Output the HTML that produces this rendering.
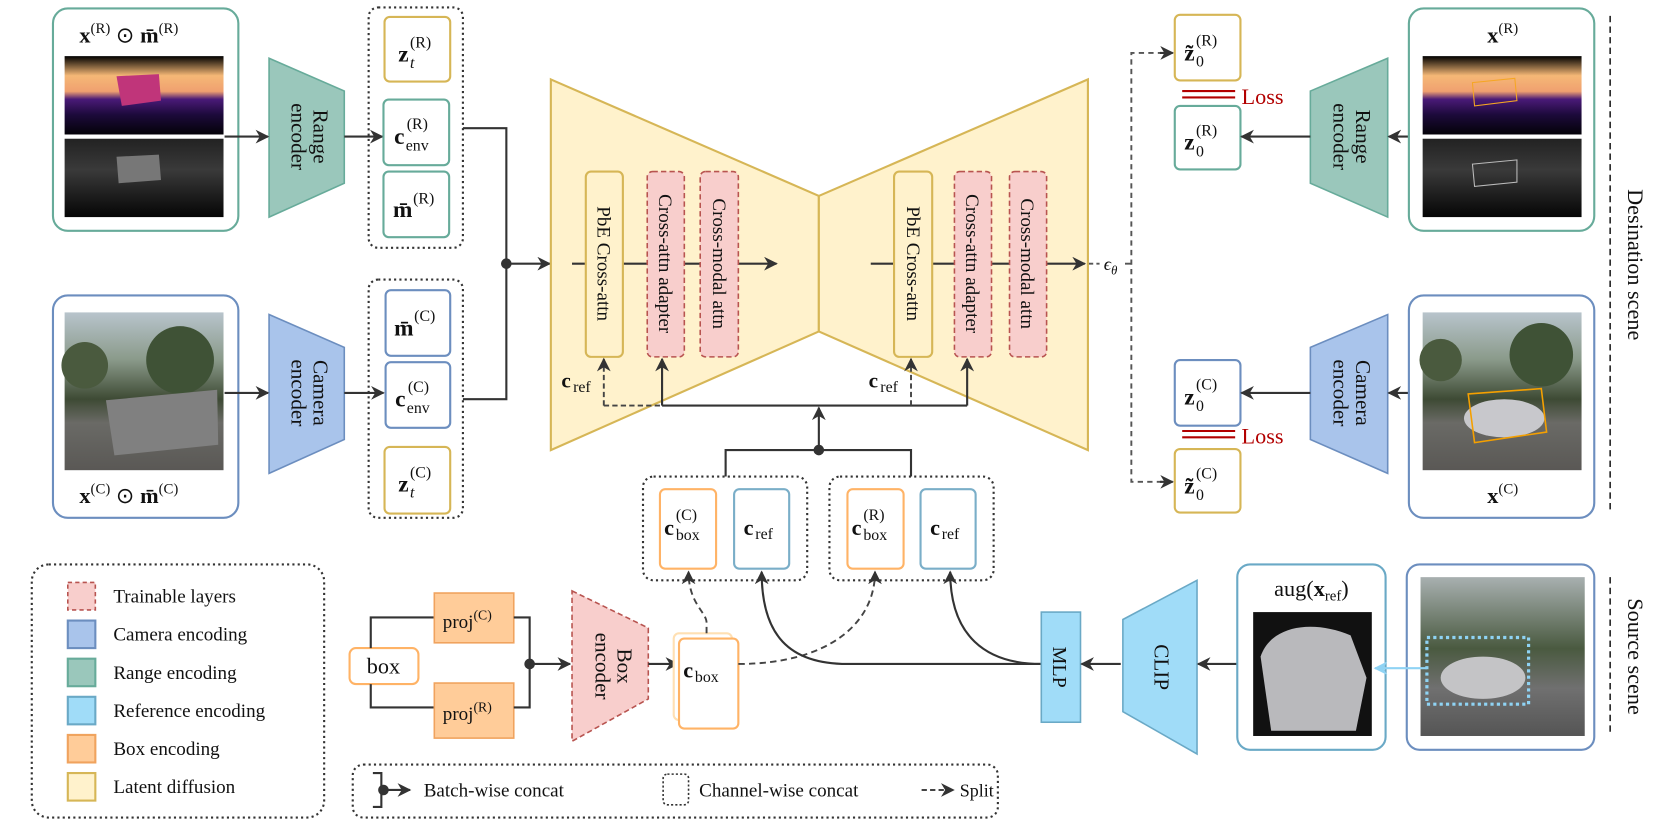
<!DOCTYPE html>
<html><head><meta charset="utf-8"><style>
html,body{margin:0;padding:0;background:#fff;}
svg{display:block;}
text{font-family:"Liberation Serif",serif;fill:#111;}
.b{font-weight:bold;}
</style></head><body>
<svg width="1661" height="826" viewBox="0 0 1568 780" preserveAspectRatio="none" xmlns="http://www.w3.org/2000/svg">
<defs>
<marker id="a" viewBox="0 0 10 10" refX="9" refY="5" markerWidth="13" markerHeight="13" markerUnits="userSpaceOnUse" orient="auto"><path d="M0,0 L10,5 L0,10 L3,5 z" fill="#333"/></marker>
<marker id="al" viewBox="0 0 10 10" refX="9" refY="5" markerWidth="13" markerHeight="13" markerUnits="userSpaceOnUse" orient="auto"><path d="M0,0 L10,5 L0,10 L3,5 z" fill="#8fd3f4"/></marker>
<linearGradient id="rg" x1="0" y1="0" x2="0" y2="1"><stop offset="0" stop-color="#000"/><stop offset="0.25" stop-color="#f5b876"/><stop offset="0.45" stop-color="#f0a070"/><stop offset="0.55" stop-color="#4a1a78"/><stop offset="0.75" stop-color="#1c0a3a"/><stop offset="1" stop-color="#040208"/></linearGradient>
<linearGradient id="gg" x1="0" y1="0" x2="0" y2="1"><stop offset="0" stop-color="#222"/><stop offset="0.4" stop-color="#3a3a3a"/><stop offset="1" stop-color="#050505"/></linearGradient>
<linearGradient id="cg" x1="0" y1="0" x2="0" y2="1"><stop offset="0" stop-color="#b8c4cc"/><stop offset="0.3" stop-color="#8a9a8a"/><stop offset="0.55" stop-color="#3e4a34"/><stop offset="0.7" stop-color="#6a6a66"/><stop offset="1" stop-color="#5a5855"/></linearGradient>
<linearGradient id="sg" x1="0" y1="0" x2="0" y2="1"><stop offset="0" stop-color="#a8b0b0"/><stop offset="0.45" stop-color="#4a5a40"/><stop offset="0.7" stop-color="#707070"/><stop offset="1" stop-color="#555"/></linearGradient>
</defs>

<rect x="50" y="8" width="175" height="210" rx="14" fill="#fff" stroke="#67ab9a" stroke-width="2"/>
<text x="75" y="40" font-size="21"><tspan class="b">x</tspan><tspan font-size="14" dy="-9">(R)</tspan><tspan dy="9"> ⊙ </tspan><tspan class="b">m̄</tspan><tspan font-size="14" dy="-9">(R)</tspan></text>
<rect x="61" y="53" width="150" height="74" fill="url(#rg)"/>
<polygon points="110,72 150,70 152,95 115,100" fill="#c0357a"/>
<rect x="61" y="131" width="150" height="74" fill="url(#gg)"/>
<polygon points="110,148 150,146 152,170 112,173" fill="#777"/>
<polygon points="254,55 325,86 325,173 254,205" fill="#9ac7bb" stroke="#67ab9a" stroke-width="1.5"/>
<g transform="translate(290,129) rotate(90)"><text text-anchor="middle" y="-6" font-size="20">Range</text><text text-anchor="middle" y="15" font-size="20">encoder</text></g>
<line x1="212" y1="129" x2="253" y2="129" stroke="#333" stroke-width="2" marker-end="url(#a)"/>
<line x1="325" y1="129" x2="361" y2="129" stroke="#333" stroke-width="2" marker-end="url(#a)"/>
<rect x="348" y="7" width="89" height="227" rx="9" fill="none" stroke="#333" stroke-width="2" stroke-dasharray="2,3"/>
<rect x="363" y="16" width="62" height="61" rx="5" fill="#fff" stroke="#d6b656" stroke-width="2"/>
<text x="376" y="58" font-size="22" class="b">z</text><text x="387" y="45" font-size="15">(R)</text><text x="387" y="64" font-size="15" font-style="italic">t</text>
<rect x="362" y="94" width="62" height="62" rx="5" fill="#fff" stroke="#67ab9a" stroke-width="2"/>
<text x="372" y="136" font-size="22" class="b">c</text><text x="384" y="122" font-size="15">(R)</text><text x="383" y="142" font-size="15">env</text>
<rect x="362" y="162" width="62" height="62" rx="5" fill="#fff" stroke="#67ab9a" stroke-width="2"/>
<text x="371" y="205" font-size="22" class="b">m̄</text><text x="390" y="192" font-size="15">(R)</text>

<rect x="50" y="279" width="175" height="210" rx="14" fill="#fff" stroke="#6c8ebf" stroke-width="2"/>
<rect x="61" y="295" width="150" height="149" fill="url(#cg)"/>
<circle cx="170" cy="340" r="32" fill="#3f5236"/><circle cx="80" cy="345" r="22" fill="#4a5a3e"/>
<polygon points="100,378 205,368 206,420 108,430" fill="#808080"/>
<text x="75" y="475" font-size="21"><tspan class="b">x</tspan><tspan font-size="14" dy="-9">(C)</tspan><tspan dy="9"> ⊙ </tspan><tspan class="b">m̄</tspan><tspan font-size="14" dy="-9">(C)</tspan></text>
<polygon points="254,297 325,328 325,415 254,447" fill="#a9c4eb" stroke="#6c8ebf" stroke-width="1.5"/>
<g transform="translate(290,371) rotate(90)"><text text-anchor="middle" y="-6" font-size="20">Camera</text><text text-anchor="middle" y="15" font-size="20">encoder</text></g>
<line x1="212" y1="371" x2="253" y2="371" stroke="#333" stroke-width="2" marker-end="url(#a)"/>
<line x1="325" y1="371" x2="362" y2="371" stroke="#333" stroke-width="2" marker-end="url(#a)"/>
<rect x="348" y="264" width="89" height="225" rx="9" fill="none" stroke="#333" stroke-width="2" stroke-dasharray="2,3"/>
<rect x="364" y="274" width="61" height="62" rx="5" fill="#fff" stroke="#6c8ebf" stroke-width="2"/>
<text x="372" y="317" font-size="22" class="b">m̄</text><text x="391" y="303" font-size="15">(C)</text>
<rect x="364" y="342" width="61" height="62" rx="5" fill="#fff" stroke="#6c8ebf" stroke-width="2"/>
<text x="373" y="384" font-size="22" class="b">c</text><text x="385" y="370" font-size="15">(C)</text><text x="384" y="390" font-size="15">env</text>
<rect x="363" y="422" width="62" height="63" rx="5" fill="#fff" stroke="#d6b656" stroke-width="2"/>
<text x="376" y="464" font-size="22" class="b">z</text><text x="387" y="451" font-size="15">(C)</text><text x="387" y="470" font-size="15" font-style="italic">t</text>

<polyline points="437,121 478,121 478,377 437,377" fill="none" stroke="#333" stroke-width="2"/>
<circle cx="478" cy="249" r="5" fill="#333"/>
<line x1="478" y1="249" x2="519" y2="249" stroke="#333" stroke-width="2" marker-end="url(#a)"/>

<polygon points="520,75 773,185 773,313 520,425" fill="#fff2cc" stroke="#d6b656" stroke-width="2"/>
<polygon points="773,185 1027,75 1027,425 773,313" fill="#fff2cc" stroke="#d6b656" stroke-width="2"/>
<line x1="540" y1="249" x2="733" y2="249" stroke="#333" stroke-width="2" marker-end="url(#a)"/>
<line x1="822" y1="249" x2="1024" y2="249" stroke="#333" stroke-width="2" marker-end="url(#a)"/>
<rect x="553" y="162" width="35" height="175" rx="5" fill="#fff2cc" stroke="#d6b656" stroke-width="2"/>
<rect x="611" y="162" width="35" height="175" rx="5" fill="#f8cecc" stroke="#b85450" stroke-width="1.5" stroke-dasharray="5,3"/>
<rect x="661" y="162" width="36" height="175" rx="5" fill="#f8cecc" stroke="#b85450" stroke-width="1.5" stroke-dasharray="5,3"/>
<rect x="844" y="162" width="36" height="175" rx="5" fill="#fff2cc" stroke="#d6b656" stroke-width="2"/>
<rect x="901" y="162" width="35" height="175" rx="5" fill="#f8cecc" stroke="#b85450" stroke-width="1.5" stroke-dasharray="5,3"/>
<rect x="953" y="162" width="35" height="175" rx="5" fill="#f8cecc" stroke="#b85450" stroke-width="1.5" stroke-dasharray="5,3"/>
<g font-size="18">
<text transform="translate(570,249) rotate(90)" text-anchor="middle" y="6">PbE Cross-attn</text>
<text transform="translate(628,249) rotate(90)" text-anchor="middle" y="6">Cross-attn adapter</text>
<text transform="translate(679,249) rotate(90)" text-anchor="middle" y="6">Cross-modal attn</text>
<text transform="translate(862,249) rotate(90)" text-anchor="middle" y="6">PbE Cross-attn</text>
<text transform="translate(918,249) rotate(90)" text-anchor="middle" y="6">Cross-attn adapter</text>
<text transform="translate(970,249) rotate(90)" text-anchor="middle" y="6">Cross-modal attn</text>
</g>
<polyline points="570,383 570,339" fill="none" stroke="#444" stroke-width="1.8" stroke-dasharray="5,3" marker-end="url(#a)"/>
<line x1="570" y1="383" x2="625" y2="383" stroke="#444" stroke-width="1.8" stroke-dasharray="5,3"/>
<line x1="625" y1="383" x2="913" y2="383" stroke="#333" stroke-width="2"/>
<line x1="625" y1="383" x2="625" y2="339" stroke="#333" stroke-width="2" marker-end="url(#a)"/>
<line x1="913" y1="383" x2="913" y2="339" stroke="#333" stroke-width="2" marker-end="url(#a)"/>
<line x1="860" y1="383" x2="860" y2="339" stroke="#444" stroke-width="1.8" stroke-dasharray="5,3" marker-end="url(#a)"/>
<text x="530" y="366" font-size="20" class="b">c</text><text x="541" y="370" font-size="15">ref</text>
<text x="820" y="366" font-size="20" class="b">c</text><text x="831" y="370" font-size="15">ref</text>
<line x1="773" y1="425" x2="773" y2="385" stroke="#333" stroke-width="2" marker-end="url(#a)"/>
<polyline points="685,450 685,425 860,425 860,450" fill="none" stroke="#333" stroke-width="2"/>
<circle cx="773" cy="425" r="5" fill="#333"/>

<line x1="1028" y1="249" x2="1038" y2="249" stroke="#555" stroke-width="1.8" stroke-dasharray="4,3"/>
<text x="1042" y="255" font-size="17" font-style="italic" fill="#444">ϵ<tspan font-size="12" dy="4">θ</tspan></text>
<line x1="1062" y1="249" x2="1068" y2="249" stroke="#555" stroke-width="1.8"/>
<polyline points="1107,50 1068,50 1068,455 1107,455" fill="none" stroke="#555" stroke-width="1.8" stroke-dasharray="5,4"/>
<line x1="1095" y1="50" x2="1107" y2="50" stroke="#333" stroke-width="2" marker-end="url(#a)"/>
<line x1="1095" y1="455" x2="1107" y2="455" stroke="#333" stroke-width="2" marker-end="url(#a)"/>

<rect x="1109" y="14" width="62" height="62" rx="5" fill="#fff" stroke="#d6b656" stroke-width="2"/>
<text x="1118" y="57" font-size="22" class="b">z̃</text><text x="1129" y="43" font-size="15">(R)</text><text x="1129" y="63" font-size="15">0</text>
<line x1="1116" y1="86" x2="1166" y2="86" stroke="#b20000" stroke-width="2"/><line x1="1116" y1="92" x2="1166" y2="92" stroke="#b20000" stroke-width="2"/>
<text x="1172" y="98" font-size="21" style="fill:#b20000">Loss</text>
<rect x="1109" y="100" width="62" height="60" rx="5" fill="#fff" stroke="#67ab9a" stroke-width="2"/>
<text x="1118" y="141" font-size="22" class="b">z</text><text x="1129" y="128" font-size="15">(R)</text><text x="1129" y="148" font-size="15">0</text>
<polygon points="1237,86 1310,55 1310,205 1237,173" fill="#9ac7bb" stroke="#67ab9a" stroke-width="1.5"/>
<g transform="translate(1274,129) rotate(90)"><text text-anchor="middle" y="-6" font-size="20">Range</text><text text-anchor="middle" y="15" font-size="20">encoder</text></g>
<line x1="1343" y1="129" x2="1311" y2="129" stroke="#333" stroke-width="2" marker-end="url(#a)"/>
<line x1="1237" y1="129" x2="1172" y2="129" stroke="#333" stroke-width="2" marker-end="url(#a)"/>
<rect x="1330" y="8" width="175" height="210" rx="14" fill="#fff" stroke="#67ab9a" stroke-width="2"/>
<text x="1404" y="40" font-size="21"><tspan class="b">x</tspan><tspan font-size="14" dy="-9">(R)</tspan></text>
<rect x="1343" y="53" width="150" height="74" fill="url(#rg)"/>
<polygon points="1390,78 1430,74 1432,95 1392,100" fill="none" stroke="#f5a623" stroke-width="1"/>
<rect x="1343" y="131" width="150" height="74" fill="url(#gg)"/>
<polygon points="1390,155 1432,151 1432,172 1392,176" fill="none" stroke="#bbb" stroke-width="1"/>

<rect x="1109" y="340" width="62" height="62" rx="5" fill="#fff" stroke="#6c8ebf" stroke-width="2"/>
<text x="1118" y="382" font-size="22" class="b">z</text><text x="1129" y="368" font-size="15">(C)</text><text x="1129" y="388" font-size="15">0</text>
<line x1="1116" y1="407" x2="1166" y2="407" stroke="#b20000" stroke-width="2"/><line x1="1116" y1="413" x2="1166" y2="413" stroke="#b20000" stroke-width="2"/>
<text x="1172" y="419" font-size="21" style="fill:#b20000">Loss</text>
<rect x="1109" y="424" width="62" height="60" rx="5" fill="#fff" stroke="#d6b656" stroke-width="2"/>
<text x="1118" y="466" font-size="22" class="b">z̃</text><text x="1129" y="452" font-size="15">(C)</text><text x="1129" y="472" font-size="15">0</text>
<polygon points="1237,328 1310,297 1310,447 1237,415" fill="#a9c4eb" stroke="#6c8ebf" stroke-width="1.5"/>
<g transform="translate(1274,371) rotate(90)"><text text-anchor="middle" y="-6" font-size="20">Camera</text><text text-anchor="middle" y="15" font-size="20">encoder</text></g>
<line x1="1343" y1="371" x2="1311" y2="371" stroke="#333" stroke-width="2" marker-end="url(#a)"/>
<line x1="1237" y1="371" x2="1172" y2="371" stroke="#333" stroke-width="2" marker-end="url(#a)"/>
<rect x="1330" y="279" width="175" height="210" rx="14" fill="#fff" stroke="#6c8ebf" stroke-width="2"/>
<rect x="1343" y="295" width="150" height="149" fill="url(#cg)"/>
<circle cx="1455" cy="335" r="30" fill="#3f5236"/><circle cx="1360" cy="340" r="20" fill="#4a5a3e"/>
<ellipse cx="1420" cy="395" rx="38" ry="18" fill="#c8c8cc"/>
<polygon points="1386,372 1455,367 1460,408 1392,418" fill="none" stroke="#f5a000" stroke-width="1.5"/>
<text x="1404" y="475" font-size="21"><tspan class="b">x</tspan><tspan font-size="14" dy="-9">(C)</tspan></text>

<line x1="1520" y1="15" x2="1520" y2="485" stroke="#222" stroke-width="1.5" stroke-dasharray="6,4"/>
<text transform="translate(1537,250) rotate(90)" text-anchor="middle" font-size="21">Desination scene</text>
<line x1="1520" y1="545" x2="1520" y2="695" stroke="#222" stroke-width="1.5" stroke-dasharray="6,4"/>
<text transform="translate(1537,620) rotate(90)" text-anchor="middle" font-size="21">Source scene</text>

<rect x="607" y="450" width="155" height="98" rx="10" fill="none" stroke="#333" stroke-width="2" stroke-dasharray="2,3"/>
<rect x="623" y="462" width="53" height="75" rx="5" fill="#fff" stroke="#ffb366" stroke-width="2"/>
<text x="627" y="505" font-size="21" class="b">c</text><text x="638" y="491" font-size="15">(C)</text><text x="638" y="510" font-size="15">box</text>
<rect x="693" y="462" width="52" height="75" rx="5" fill="#fff" stroke="#7aaec8" stroke-width="2"/>
<text x="702" y="505" font-size="21" class="b">c</text><text x="713" y="509" font-size="15">ref</text>
<rect x="783" y="450" width="155" height="98" rx="10" fill="none" stroke="#333" stroke-width="2" stroke-dasharray="2,3"/>
<rect x="800" y="462" width="53" height="75" rx="5" fill="#fff" stroke="#ffb366" stroke-width="2"/>
<text x="804" y="505" font-size="21" class="b">c</text><text x="815" y="491" font-size="15">(R)</text><text x="815" y="510" font-size="15">box</text>
<rect x="869" y="462" width="52" height="75" rx="5" fill="#fff" stroke="#7aaec8" stroke-width="2"/>
<text x="878" y="505" font-size="21" class="b">c</text><text x="889" y="509" font-size="15">ref</text>

<rect x="330" y="612" width="65" height="34" rx="6" fill="#fff" stroke="#ffb366" stroke-width="2"/>
<text x="362" y="636" text-anchor="middle" font-size="21">box</text>
<polyline points="350,612 350,583 410,583" fill="none" stroke="#333" stroke-width="2"/>
<polyline points="350,646 350,668 410,668" fill="none" stroke="#333" stroke-width="2"/>
<rect x="410" y="560" width="75" height="47" fill="#ffcc99" stroke="#f0a35e" stroke-width="1.5"/>
<text x="418" y="593" font-size="18">proj<tspan font-size="13" dy="-8">(C)</tspan></text>
<rect x="410" y="645" width="75" height="52" fill="#ffcc99" stroke="#f0a35e" stroke-width="1.5"/>
<text x="418" y="680" font-size="18">proj<tspan font-size="13" dy="-8">(R)</tspan></text>
<polyline points="485,583 500,583 500,668 485,668" fill="none" stroke="#333" stroke-width="2"/>
<circle cx="500" cy="627" r="5" fill="#333"/>
<line x1="500" y1="627" x2="538" y2="627" stroke="#333" stroke-width="2" marker-end="url(#a)"/>
<polygon points="540,558 612,593 612,660 540,700" fill="#f8cecc" stroke="#b85450" stroke-width="1.5" stroke-dasharray="5,3"/>
<g transform="translate(577,629) rotate(90)"><text text-anchor="middle" y="-6" font-size="20">Box</text><text text-anchor="middle" y="15" font-size="20">encoder</text></g>
<line x1="612" y1="627" x2="640" y2="627" stroke="#333" stroke-width="2" marker-end="url(#a)"/>
<rect x="636" y="598" width="55" height="82" rx="5" fill="#fff" stroke="#ffe0b3" stroke-width="2"/>
<rect x="641" y="603" width="56" height="85" rx="5" fill="#fff" stroke="#ffb366" stroke-width="2"/>
<text x="645" y="640" font-size="21" class="b">c</text><text x="656" y="644" font-size="15">box</text>
<path d="M697,627 C780,627 826,590 826,540" fill="none" stroke="#444" stroke-width="1.8" stroke-dasharray="6,4" marker-end="url(#a)"/>
<path d="M667,598 L667,588 C667,578 650,570 650,540" fill="none" stroke="#444" stroke-width="1.8" stroke-dasharray="6,4" marker-end="url(#a)"/>
<path d="M983,627 L800,627 C745,627 719,600 719,540" fill="none" stroke="#333" stroke-width="2" marker-end="url(#a)"/>
<path d="M983,627 C930,627 897,600 897,540" fill="none" stroke="#333" stroke-width="2" marker-end="url(#a)"/>

<rect x="983" y="578" width="37" height="104" fill="#a0dcf8" stroke="#6aa9c6" stroke-width="1.5"/>
<text transform="translate(1001,630) rotate(90)" text-anchor="middle" y="7" font-size="19">MLP</text>
<line x1="1058" y1="627" x2="1021" y2="627" stroke="#333" stroke-width="2" marker-end="url(#a)"/>
<polygon points="1060,585 1130,548 1130,712 1060,672" fill="#a0dcf8" stroke="#6aa9c6" stroke-width="1.5"/>
<text transform="translate(1097,630) rotate(90)" text-anchor="middle" y="7" font-size="20">CLIP</text>
<line x1="1168" y1="627" x2="1131" y2="627" stroke="#333" stroke-width="2" marker-end="url(#a)"/>
<rect x="1168" y="533" width="140" height="175" rx="12" fill="#fff" stroke="#6aa9c6" stroke-width="2"/>
<text x="1238" y="563" text-anchor="middle" font-size="21">aug(<tspan class="b">x</tspan><tspan font-size="14" dy="4">ref</tspan><tspan dy="-4">)</tspan></text>
<rect x="1183" y="578" width="112" height="117" fill="#111"/>
<path d="M1190,620 C1200,590 1240,585 1275,600 L1290,640 L1280,690 L1200,690 Z" fill="#b9b9bc"/>
<rect x="1328" y="533" width="177" height="175" rx="12" fill="#fff" stroke="#6c8ebf" stroke-width="2"/>
<rect x="1341" y="545" width="155" height="150" fill="url(#sg)"/>
<ellipse cx="1400" cy="640" rx="40" ry="20" fill="#c4c4c6"/>
<rect x="1347" y="602" width="96" height="63" fill="none" stroke="#8fd3f4" stroke-width="3" stroke-dasharray="3,3"/>
<line x1="1347" y1="631" x2="1298" y2="631" stroke="#8fd3f4" stroke-width="2" marker-end="url(#al)"/>

<rect x="30" y="533" width="276" height="239" rx="16" fill="none" stroke="#333" stroke-width="2" stroke-dasharray="2,3"/>
<rect x="64" y="550" width="26" height="26" fill="#f8cecc" stroke="#b85450" stroke-width="1.5" stroke-dasharray="4,3"/>
<rect x="64" y="586" width="26" height="26" fill="#a9c4eb" stroke="#6c8ebf" stroke-width="2"/>
<rect x="64" y="622" width="26" height="26" fill="#9ac7bb" stroke="#67ab9a" stroke-width="2"/>
<rect x="64" y="658" width="26" height="26" fill="#a0dcf8" stroke="#6aa9c6" stroke-width="2"/>
<rect x="64" y="694" width="26" height="26" fill="#ffcc99" stroke="#f0a35e" stroke-width="2"/>
<rect x="64" y="730" width="26" height="26" fill="#fff2cc" stroke="#d6b656" stroke-width="2"/>
<g font-size="18">
<text x="107" y="569">Trainable layers</text>
<text x="107" y="605">Camera encoding</text>
<text x="107" y="641">Range encoding</text>
<text x="107" y="677">Reference encoding</text>
<text x="107" y="713">Box encoding</text>
<text x="107" y="749">Latent diffusion</text>
</g>

<rect x="333" y="722" width="609" height="50" rx="10" fill="none" stroke="#333" stroke-width="2" stroke-dasharray="2,3"/>
<polyline points="352,730 360,730 360,762 352,762" fill="none" stroke="#333" stroke-width="2"/>
<circle cx="362" cy="746" r="5" fill="#333"/>
<line x1="362" y1="746" x2="387" y2="746" stroke="#333" stroke-width="2" marker-end="url(#a)"/>
<text x="400" y="752" font-size="18">Batch-wise concat</text>
<rect x="626" y="731" width="24" height="29" rx="4" fill="none" stroke="#333" stroke-width="1.5" stroke-dasharray="2,2"/>
<text x="660" y="752" font-size="18">Channel-wise concat</text>
<line x1="870" y1="746" x2="900" y2="746" stroke="#444" stroke-width="1.8" stroke-dasharray="5,3" marker-end="url(#a)"/>
<text x="906" y="752" font-size="17">Split</text>
</svg>
</body></html>
